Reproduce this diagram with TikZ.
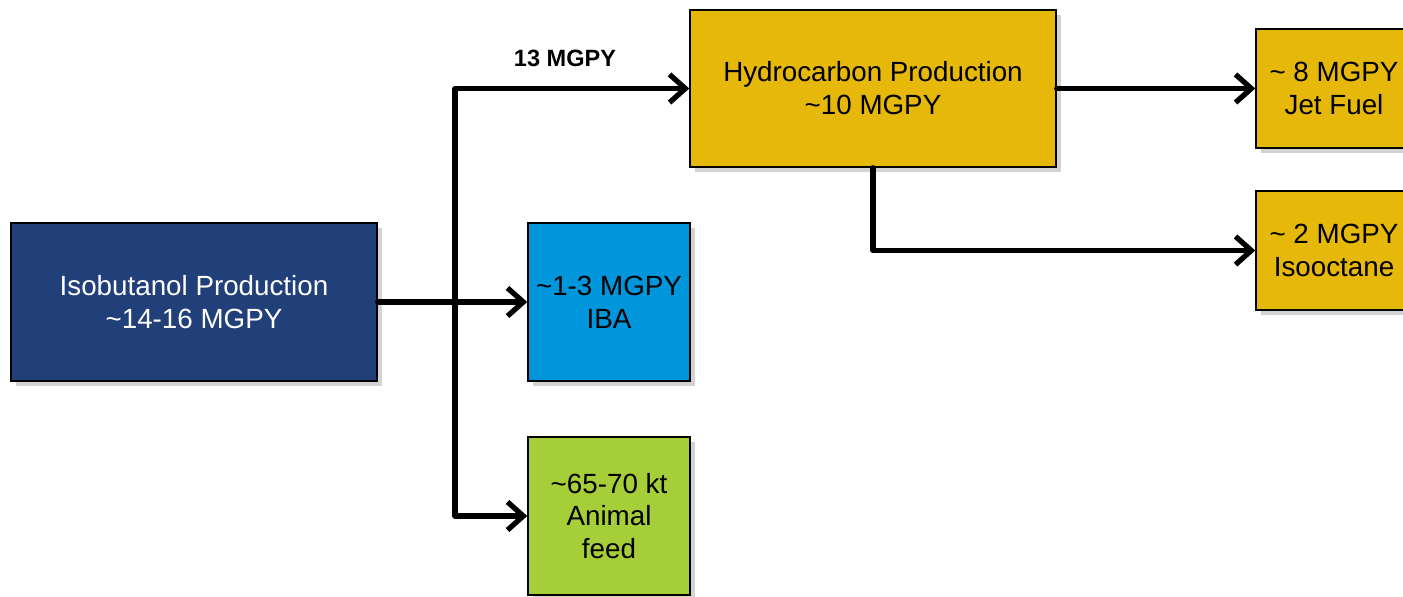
\documentclass[tikz,border=0pt]{standalone}
\usepackage{fontspec}
\setmainfont{Liberation Sans}
\usetikzlibrary{arrows.meta,shadows}
\definecolor{isoblue}{RGB}{33,64,122}
\definecolor{ibablue}{RGB}{0,150,219}
\definecolor{feedgreen}{RGB}{166,206,57}
\definecolor{hcgold}{RGB}{230,184,10}
\tikzset{
  box/.style={draw=black, line width=0.8pt, inner sep=0pt, align=center,
    font=\fontsize{15.8}{18.7}\selectfont,
    drop shadow={shadow xshift=3pt, shadow yshift=-3pt, opacity=0.35}},
  flow/.style={line width=3pt, line join=round, line cap=round,
    -{Straight Barb[length=9pt,width=16pt]}}
}
\begin{document}
\begin{tikzpicture}
\useasboundingbox (0,0) rectangle (28.06,11.92);
\node[box, fill=isoblue, text=white, minimum width=7.32cm, minimum height=3.16cm] (iso) at (3.88,5.88) {Isobutanol Production\\\textasciitilde14-16 MGPY};
\node[box, fill=ibablue, minimum width=3.24cm, minimum height=3.16cm] (iba) at (12.18,5.88) {\textasciitilde1-3 MGPY\\IBA};
\node[box, fill=feedgreen, minimum width=3.24cm, minimum height=3.16cm] (feed) at (12.18,1.60) {\textasciitilde65-70 kt\\Animal\\feed};
\node[box, fill=hcgold, minimum width=7.32cm, minimum height=3.14cm] (hc) at (17.46,10.15) {Hydrocarbon Production\\\textasciitilde10 MGPY};
\node[box, fill=hcgold, minimum width=3.12cm, minimum height=2.38cm] (jet) at (26.68,10.15) {\textasciitilde{} 8 MGPY\\Jet Fuel};
\node[box, fill=hcgold, minimum width=3.12cm, minimum height=2.38cm] (ioct) at (26.68,6.91) {\textasciitilde{} 2 MGPY\\Isooctane};
% split line left of the middle column
\coordinate (trunk) at (9.10,0);
\draw[flow] (iso.east) -- (iba.west);
\draw[flow] (trunk |- feed.west) |- (hc.west);
\draw[flow] (trunk |- feed.west) -- (feed.west);
\draw[flow] (hc.east) -- (jet.west);
\draw[flow] (hc.south) |- (ioct.west);
\node[font=\bfseries\fontsize{13.4}{16}\selectfont] (rate) at (11.30,10.76) {13 MGPY};
\end{tikzpicture}
\end{document}
